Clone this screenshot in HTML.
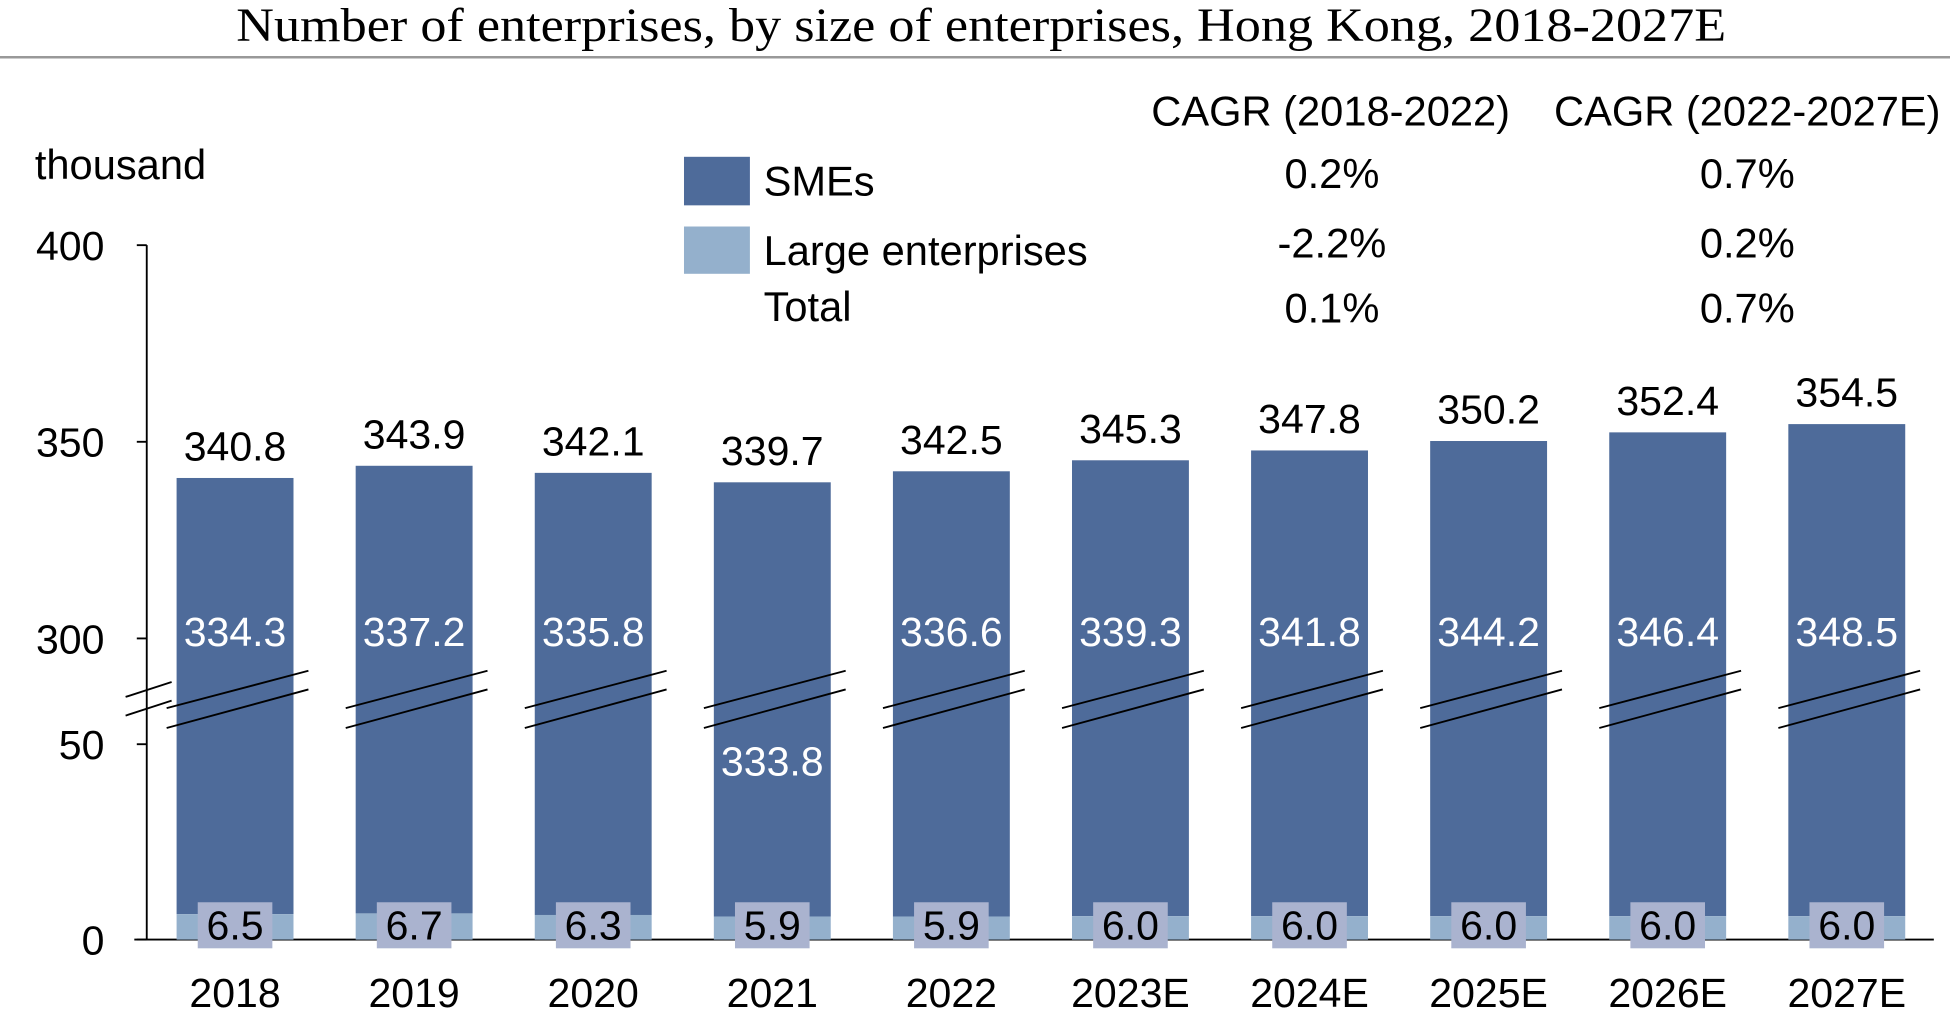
<!DOCTYPE html>
<html><head><meta charset="utf-8"><style>
html,body{margin:0;padding:0;background:#fff;}
svg{display:block;font-family:"Liberation Sans",Arial,sans-serif;}
</style></head><body>
<svg id="chart" width="1950" height="1018" viewBox="0 0 1568 818" preserveAspectRatio="none" xmlns="http://www.w3.org/2000/svg">
<text x="190" y="33" textLength="1198" lengthAdjust="spacingAndGlyphs" font-family="Liberation Serif, serif" font-size="38">Number of enterprises, by size of enterprises, Hong Kong, 2018-2027E</text>
<line x1="0" y1="46" x2="1568" y2="46" stroke="#999" stroke-width="2"/>
<text x="28" y="144" font-size="33.5">thousand</text>
<g font-size="33.5">
<rect x="550" y="126" width="53" height="39" fill="#4e6b9a"/>
<text x="614" y="157">SMEs</text>
<rect x="550" y="182" width="53" height="38" fill="#94b0cc"/>
<text x="614" y="213">Large enterprises</text>
<text x="614" y="258">Total</text>
</g>
<g font-size="33.5" text-anchor="middle">
<text x="1070" y="101">CAGR (2018-2022)</text>
<text x="1405" y="101">CAGR (2022-2027E)</text>
<text x="1071" y="151">0.2%</text>
<text x="1405" y="151">0.7%</text>
<text x="1071" y="207">-2.2%</text>
<text x="1405" y="207">0.2%</text>
<text x="1071" y="259">0.1%</text>
<text x="1405" y="259">0.7%</text>
</g>
<g id="plot"></g>
</svg>
<script>
const categories = ["2018","2019","2020","2021","2022","2023E","2024E","2025E","2026E","2027E"];
const smes = [334.3,337.2,335.8,333.8,336.6,339.3,341.8,344.2,346.4,348.5];
const large = [6.5,6.7,6.3,5.9,5.9,6.0,6.0,6.0,6.0,6.0];
const totals = [340.8,343.9,342.1,339.7,342.5,345.3,347.8,350.2,352.4,354.5];
const yTicks = [0,50,300,350,400];

const NS="http://www.w3.org/2000/svg";
const g=document.getElementById('plot');
const FS=33;
function y(v){ return v<=50 ? 755 - v*3.14 : 513 - (v-300)*3.16; }
function x(i){ return 189 + i*144; }
const BW=94;
function mk(tag,attrs,parent){const e=document.createElementNS(NS,tag);for(const k in attrs)e.setAttribute(k,attrs[k]);(parent||g).appendChild(e);return e;}

let ax=mk('line',{x1:118,y1:197,x2:118,y2:755,stroke:'#000','stroke-width':1.5});


let bl=mk('line',{x1:108,y1:755,x2:1555,y2:755,stroke:'#000','stroke-width':1.5});


yTicks.forEach(t=>{
  const tk=mk('line',{x1:110,y1:y(t),x2:118,y2:y(t),stroke:'#000','stroke-width':1.5});
  
  
  const tl=mk('text',{x:84,y:y(t)+12,'text-anchor':'end','font-size':FS});
  tl.textContent=t;
  
  
});
[[560,548],[575,563]].forEach(p=>{
  const l=mk('line',{x1:101,y1:p[0],x2:138,y2:p[1],stroke:'#000','stroke-width':1.5});
  
  
});

categories.forEach((c,i)=>{
  const cx=x(i);
  const top=y(totals[i]), lt=y(large[i]);
  const b=mk('rect',{x:cx-BW/2,y:top,width:BW,height:lt-top,fill:'#4e6b9a'});
  
  
  const lb=mk('rect',{x:cx-BW/2,y:lt,width:BW,height:755-lt,fill:'#94b0cc'});
  
  
  [[569,539],[585,554]].forEach(p=>{
    const l=mk('line',{x1:cx-55,y1:p[0],x2:cx+59,y2:p[1],stroke:'#000','stroke-width':1.5});
    
    
  });
  const tl=mk('text',{x:cx,y:top-14,'text-anchor':'middle','font-size':FS});
  tl.textContent=totals[i].toFixed(1);
  
  
  const sy = (c==='2021') ? 623 : 519;
  const sl=mk('text',{x:cx,y:sy,'text-anchor':'middle','font-size':FS,fill:'#fff'});
  sl.textContent=smes[i].toFixed(1);
  
  
  const bx=mk('rect',{x:cx-30,y:725,width:60,height:37,fill:'#aab3cf'});
  
  
  const ll=mk('text',{x:cx,y:755,'text-anchor':'middle','font-size':FS});
  ll.textContent=large[i].toFixed(1);
  
  
  const xl=mk('text',{x:cx,y:809,'text-anchor':'middle','font-size':FS});
  xl.textContent=c;
  
  
});
</script>
</body></html>
